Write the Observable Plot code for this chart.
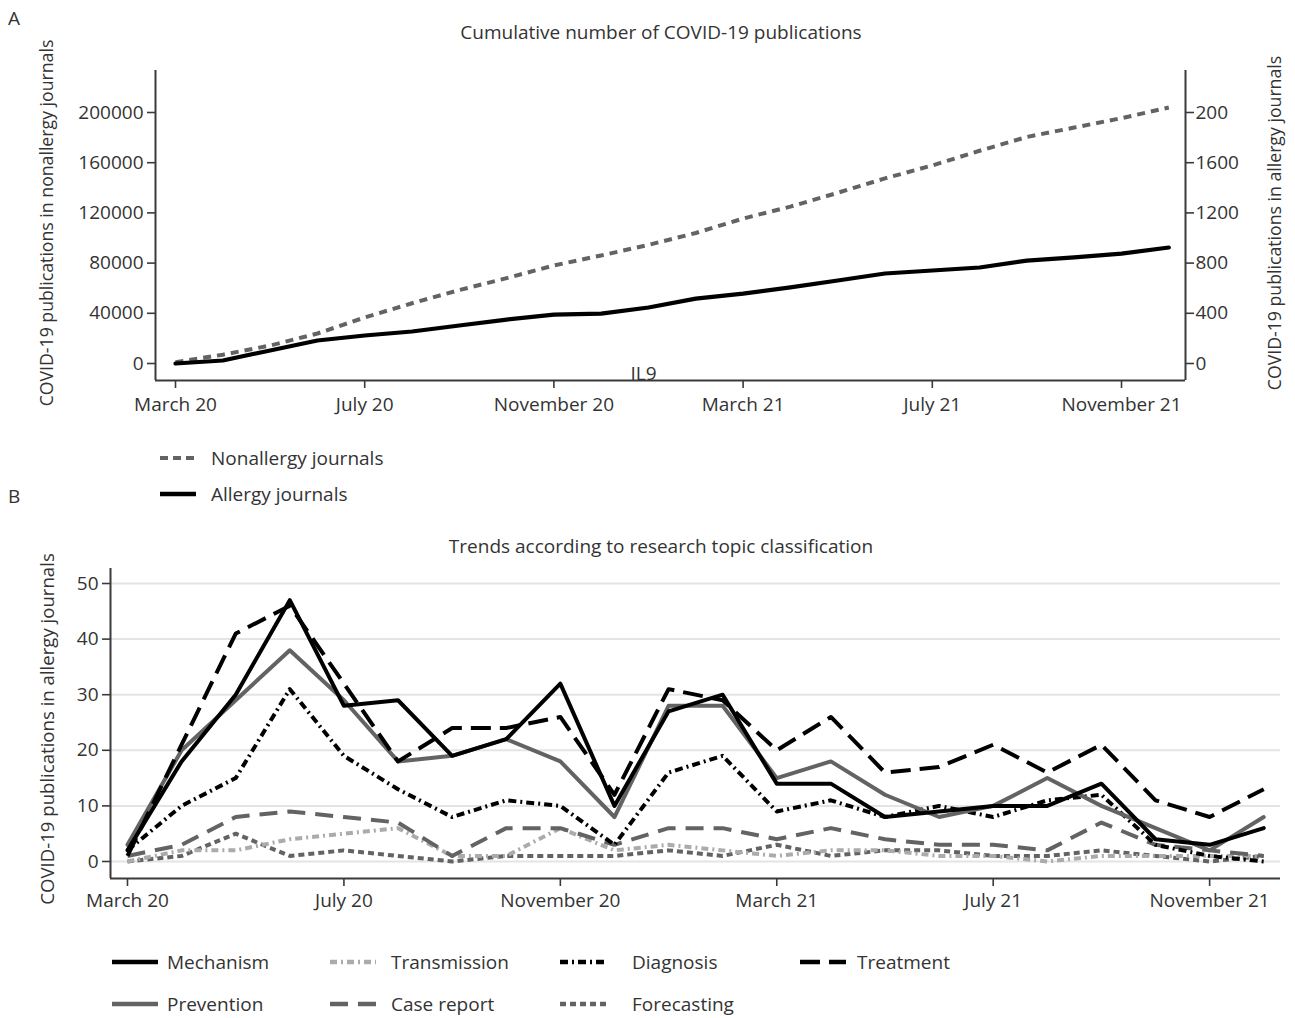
<!DOCTYPE html>
<html>
<head>
<meta charset="utf-8">
<script src="https://cdn.jsdelivr.net/npm/d3@7"></script>
<script src="https://cdn.jsdelivr.net/npm/@observablehq/plot@0.6"></script>
<style>
  body { margin: 0; background: #fff; }
  #root { position: relative; width: 1295px; height: 1018px; overflow: hidden; background: #fff; }
  #root > svg { position: absolute; left: 0; }
</style>
</head>
<body>
<div id="root"></div>
<script>
// ---------- DATA ----------
const months = ["2020-03","2020-04","2020-05","2020-06","2020-07","2020-08","2020-09","2020-10","2020-11","2020-12",
                "2021-01","2021-02","2021-03","2021-04","2021-05","2021-06","2021-07","2021-08","2021-09","2021-10","2021-11","2021-12"];
const monthTickIndex = [0, 4, 8, 12, 16, 20];
const monthTickLabels = ["March 20", "July 20", "November 20", "March 21", "July 21", "November 21"];

// Panel A: cumulative publications
const nonallergyCumulative = [1000, 7000, 14300, 23900, 36700, 48000, 58500, 68000, 78100, 86100,
                              94500, 104000, 115500, 125000, 136000, 147500, 157800, 169500, 180500, 188000, 195500, 204000];
const allergyCumulative = [0, 24, 104, 183, 223, 255, 303, 350, 390, 398,
                           446, 517, 557, 606, 661, 717, 741, 765, 820, 845, 876, 924];
const nonallergyTicks = [0, 40000, 80000, 120000, 160000, 200000];
const allergyTicks = [0, 400, 800, 1200, 1600, 2000];
const allergyTickLabels = ["0", "400", "800", "1200", "1600", "200"];
const legendA = ["Nonallergy journals", "Allergy journals"];

// Panel B: monthly publications by research topic
const topicTicks = [0, 10, 20, 30, 40, 50];
const mechanism    = [2, 18, 30, 47, 28, 29, 19, 22, 32, 10, 27, 30, 14, 14, 8, 9, 10, 10, 14, 4, 3, 6];
const transmission = [0, 2, 2, 4, 5, 6, 1, 1, 6, 2, 3, 2, 1, 2, 2, 1, 1, 0, 1, 1, 1, 1];
const diagnosis    = [2, 10, 15, 31, 19, 13, 8, 11, 10, 3, 16, 19, 9, 11, 8, 10, 8, 11, 12, 3, 1, 0];
const treatment    = [1, 21, 41, 46, 32, 18, 24, 24, 26, 12, 31, 29, 20, 26, 16, 17, 21, 16, 21, 11, 8, 13];
const prevention   = [3, 20, 29, 38, 29, 18, 19, 22, 18, 8, 28, 28, 15, 18, 12, 8, 10, 15, 10, 6, 2, 8];
const caseReport   = [1, 3, 8, 9, 8, 7, 1, 6, 6, 3, 6, 6, 4, 6, 4, 3, 3, 2, 7, 3, 2, 1];
const forecasting  = [0, 1, 5, 1, 2, 1, 0, 1, 1, 1, 2, 1, 3, 1, 2, 2, 1, 1, 2, 1, 0, 1];

// ---------- STYLES ----------
const FONT = "'Open Sans', 'Liberation Sans', sans-serif";
const FS = 19;
const TXT = "#333";
const AX = "#3a3a3a";
const DARK = "#636363";
const LIGHT = "#ababab";

const topicSeries = [
  {name: "Forecasting",  values: forecasting,  stroke: DARK,   dash: "6,4"},
  {name: "Transmission", values: transmission, stroke: LIGHT,  dash: "7,4,2,4"},
  {name: "Case report",  values: caseReport,   stroke: DARK,   dash: "18,10"},
  {name: "Diagnosis",    values: diagnosis,    stroke: "#000", dash: "8,4,2,4"},
  {name: "Prevention",   values: prevention,   stroke: DARK,   dash: null},
  {name: "Treatment",    values: treatment,    stroke: "#000", dash: "20,9"},
  {name: "Mechanism",    values: mechanism,    stroke: "#000", dash: null}
];

const root = document.getElementById("root");
const W = 1295;
const styleCommon = {fontFamily: FONT, fontSize: FS + "px", color: TXT, background: "transparent", overflow: "visible"};

// ---------- PANEL A ----------
const xA = [-0.423, 21.353];
const yA = [-13546, 233466];
const rowsNon = months.map((m, i) => ({i, v: nonallergyCumulative[i]}));
const rowsAll = months.map((m, i) => ({i, v: allergyCumulative[i]}));

const plotA = Plot.plot({
  width: W, height: 430,
  marginLeft: 155, marginRight: 110, marginTop: 70, marginBottom: 50,
  style: styleCommon,
  x: {type: "linear", domain: xA, axis: null},
  y: {type: "linear", domain: yA, axis: null},
  marks: [
    Plot.axisX({ticks: monthTickIndex, tickFormat: d => monthTickLabels[monthTickIndex.indexOf(d)],
                tickSize: 8, tickPadding: 9, label: null, stroke: AX, strokeWidth: 1.6, fontSize: FS}),
    Plot.axisY({anchor: "left", ticks: nonallergyTicks, tickFormat: d => String(d),
                tickSize: 8, tickPadding: 4, label: null, stroke: AX, strokeWidth: 1.6, fontSize: FS}),
    Plot.axisY({anchor: "right", ticks: allergyTicks.map(v => v * 100),
                tickFormat: d => allergyTickLabels[allergyTicks.indexOf(d / 100)],
                tickSize: 8, tickPadding: 2, label: null, stroke: AX, strokeWidth: 1.6, fontSize: FS}),
    Plot.ruleX(xA, {stroke: AX, strokeWidth: 2}),
    Plot.ruleY([yA[0]], {stroke: AX, strokeWidth: 2}),
    Plot.text(["IL9"], {x: 9.894, y: -8000, text: d => d, fill: TXT, fontSize: FS}),
    Plot.line(rowsNon, {x: "i", y: "v", stroke: DARK, strokeWidth: 4, strokeDasharray: "8,6", strokeLinecap: "butt"}),
    Plot.line(rowsAll, {x: "i", y: d => d.v * 100, stroke: "#000", strokeWidth: 4.2})
  ]
});
plotA.style.top = "0px";
root.appendChild(plotA);

// ---------- PANEL B ----------
const xB = [-0.314, 21.31];
const yB = [-3.06, 52.7];
const plotB = Plot.plot({
  width: W, height: 360,
  marginLeft: 110, marginRight: 15, marginTop: 8, marginBottom: 42,
  style: styleCommon,
  x: {type: "linear", domain: xB, axis: null},
  y: {type: "linear", domain: yB, axis: null},
  marks: [
    Plot.gridY({ticks: topicTicks, stroke: "#e4e4e4", strokeOpacity: 1, strokeWidth: 2}),
    Plot.axisX({ticks: monthTickIndex, tickFormat: d => monthTickLabels[monthTickIndex.indexOf(d)],
                tickSize: 8, tickPadding: 7, label: null, stroke: AX, strokeWidth: 1.6, fontSize: FS}),
    Plot.axisY({anchor: "left", ticks: topicTicks, tickFormat: d => String(d),
                tickSize: 8, tickPadding: 4, label: null, stroke: AX, strokeWidth: 1.6, fontSize: FS}),
    Plot.ruleX([xB[0]], {stroke: AX, strokeWidth: 2}),
    Plot.ruleY([yB[0]], {stroke: AX, strokeWidth: 2}),
    ...topicSeries.map(s => Plot.line(months.map((m, i) => ({i, v: s.values[i]})),
        {x: "i", y: "v", stroke: s.stroke, strokeWidth: 4,
         strokeDasharray: s.dash || undefined, strokeLinecap: s.dash ? "butt" : "round"}))
  ]
});
plotB.style.top = "560px";
root.appendChild(plotB);

// ---------- TEXT & LEGENDS ----------
const ov = d3.create("svg").attr("width", W).attr("height", 1018)
  .style("top", "0px").style("pointer-events", "none")
  .style("font-family", FONT).style("font-size", FS + "px").attr("fill", TXT);

function txt(x, y, s, anchor = "start") {
  ov.append("text").attr("x", x).attr("y", y).attr("text-anchor", anchor).text(s);
}
function vtxt(x, y, s, size) {
  ov.append("text").attr("transform", `translate(${x},${y}) rotate(-90)`)
    .attr("text-anchor", "middle").style("font-size", size + "px").text(s);
}
function sample(x1, x2, y, stroke, dash, w = 4) {
  const l = ov.append("line").attr("x1", x1).attr("x2", x2).attr("y1", y).attr("y2", y)
    .attr("stroke", stroke).attr("stroke-width", w);
  if (dash) l.attr("stroke-dasharray", dash);
}

txt(8, 25, "A");
txt(661, 39, "Cumulative number of COVID-19 publications", "middle");
vtxt(53, 223, "COVID-19 publications in nonallergy journals", 17.7);
vtxt(1281, 223, "COVID-19 publications in allergy journals", 17.7);

sample(160, 196, 458, DARK, "8,5");
txt(211, 465, legendA[0]);
sample(160, 196, 494, "#000", null, 4.5);
txt(211, 501, legendA[1]);

txt(8, 503, "B");
txt(661, 553, "Trends according to research topic classification", "middle");
vtxt(54, 729, "COVID-19 publications in allergy journals", 18.6);

const legendLayout = {
  "Mechanism":    [112, 962, 167],
  "Transmission": [330, 962, 391],
  "Diagnosis":    [560, 962, 632],
  "Treatment":    [800, 962, 857],
  "Prevention":   [112, 1004, 167],
  "Case report":  [330, 1004, 391],
  "Forecasting":  [560, 1004, 632]
};
topicSeries.forEach(s => {
  const [lx, ly, tx] = legendLayout[s.name];
  sample(lx, lx + 46, ly, s.stroke, s.dash, 4.5);
  txt(tx, ly + 7, s.name);
});

root.appendChild(ov.node());
</script>
</body>
</html>
